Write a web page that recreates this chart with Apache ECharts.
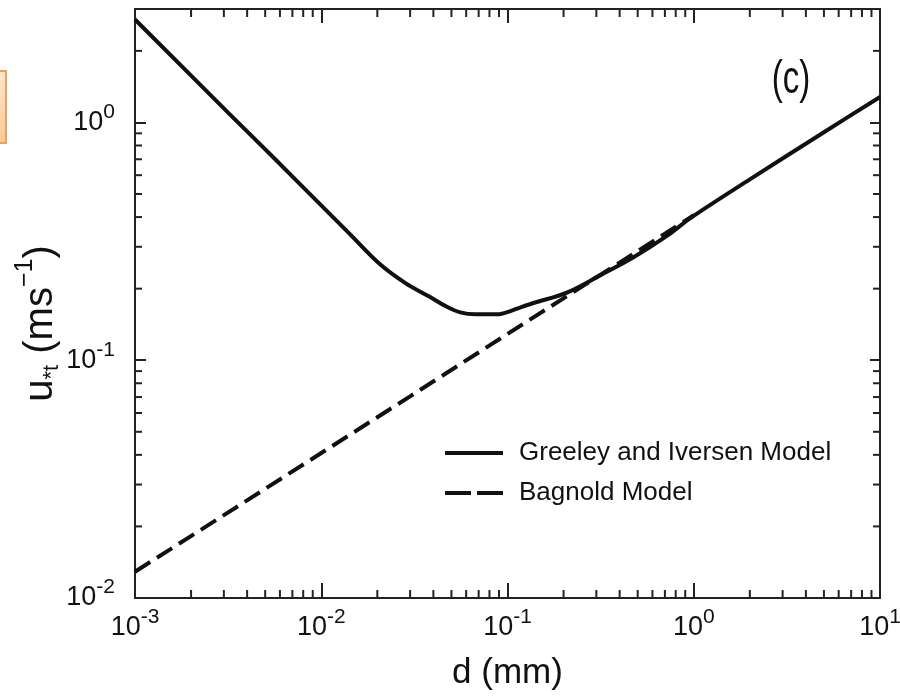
<!DOCTYPE html>
<html><head><meta charset="utf-8">
<script src="https://cdn.jsdelivr.net/npm/echarts@6/dist/echarts.min.js"></script>
<style>html,body{margin:0;padding:0;background:#fff}#c{width:900px;height:697px}</style>
</head><body><div id="c"></div>
<script>
const FONT = '"Liberation Sans",Arial,Helvetica,sans-serif';

// tick labels (value -> exponent shown as superscript)
const xTickValues = [0.001, 0.01, 0.1, 1, 10];
const xTickExp = ['-3', '-2', '-1', '0', '1'];
const yTickValues = [0.01, 0.1, 1];
const yTickExp = ['-2', '-1', '0'];

// Greeley and Iversen model (d in mm, u*t in m/s)
const giD = [0.001, 0.00316, 0.00566, 0.01, 0.0143, 0.0207, 0.0283, 0.0386, 0.0465, 0.0558, 0.0674, 0.0883, 0.1038, 0.1175, 0.138, 0.21, 0.316, 0.475, 0.724, 0.96, 2, 5, 10];
const giU = [2.71, 1.10, 0.70, 0.448, 0.338, 0.253, 0.211, 0.184, 0.169, 0.159, 0.156, 0.156, 0.161, 0.167, 0.174, 0.193, 0.228, 0.271, 0.335, 0.396, 0.576, 0.91, 1.28];

// Bagnold model
const bgD = [0.001, 0.003, 0.01, 0.03, 0.1, 0.3, 1];
const bgU = [0.0129, 0.0223, 0.0407, 0.0705, 0.129, 0.223, 0.407];

const minorMult = [2, 3, 4, 5, 6, 7, 8, 9];
const xDecades = [0.001, 0.01, 0.1, 1];
const yDecades = [0.01, 0.1, 1];
const xMinor = [];
xDecades.forEach(d => minorMult.forEach(m => xMinor.push(+(d * m).toPrecision(6))));
const yMinor = [];
yDecades.forEach(d => minorMult.forEach(m => { const v = +(d * m).toPrecision(6); if (v < 3) yMinor.push(v); }));

function expLabel(values, exps) {
  return function (v) {
    for (let i = 0; i < values.length; i++) {
      if (Math.abs(v - values[i]) / values[i] < 1e-6) return '{b|10}{s|' + exps[i] + '}';
    }
    return '';
  };
}
const tickRich = {
  b: { fontFamily: FONT, fontSize: 27, color: '#111' },
  s: { fontFamily: FONT, fontSize: 21, color: '#111', padding: [0, 0, 21, 0] }
};
const AX = '#222';

const chart = echarts.init(document.getElementById('c'));
chart.setOption({
  backgroundColor: '#fff',
  animation: false,
  grid: { left: 135, right: 20, top: 9, bottom: 99, containLabel: false, outerBoundsMode: 'none' },
  xAxis: [{
    type: 'log', logBase: 10, min: 0.001, max: 10,
    position: 'bottom',
    name: 'd (mm)', nameLocation: 'middle', nameGap: 58,
    nameTextStyle: { fontFamily: FONT, fontSize: 35, color: '#111' },
    axisLine: { show: true, lineStyle: { color: AX, width: 2 } },
    axisTick: { show: true, inside: true, length: 15, lineStyle: { color: AX, width: 2 } },
    axisLabel: { margin: 9, formatter: expLabel(xTickValues, xTickExp), rich: tickRich },
    splitLine: { show: false }, minorTick: { show: false }
  }, {
    type: 'log', logBase: 10, min: 0.001, max: 10,
    position: 'top',
    axisLine: { show: true, lineStyle: { color: AX, width: 2 } },
    axisTick: { show: true, inside: true, length: 14, lineStyle: { color: AX, width: 2 } },
    axisLabel: { show: false }, splitLine: { show: false }
  }],
  yAxis: [{
    type: 'log', logBase: 10, min: 0.01, max: 3,
    position: 'left',
    name: '{m|u}{sub|*t}{m| (ms}{sup|\u22121}{e|)}',
    nameLocation: 'middle', nameRotate: 90, nameGap: 67, nameMoveOverlap: false,
    nameTextStyle: {
      rich: {
        m: { fontFamily: FONT, fontSize: 40, color: '#111' },
        e: { fontFamily: FONT, fontSize: 40, color: '#111', padding: [0, 40, 0, 0] },
        sub: { fontFamily: FONT, fontSize: 22, color: '#111', padding: [22, 0, 0, 0] },
        sup: { fontFamily: FONT, fontSize: 25, color: '#111', padding: [0, 0, 30, 0] }
      }
    },
    axisLine: { show: true, lineStyle: { color: AX, width: 2 } },
    axisTick: { show: true, inside: true, length: 11, lineStyle: { color: AX, width: 2 } },
    axisLabel: { margin: 20, formatter: expLabel(yTickValues, yTickExp), rich: tickRich },
    splitLine: { show: false }
  }, {
    type: 'log', logBase: 10, min: 0.01, max: 3,
    position: 'right',
    axisLine: { show: true, lineStyle: { color: AX, width: 2 } },
    axisTick: { show: true, inside: true, length: 10, lineStyle: { color: AX, width: 2 } },
    axisLabel: { show: false }, splitLine: { show: false }
  }],
  legend: {
    left: 438, top: 435, orient: 'vertical',
    itemWidth: 58, itemHeight: 28, itemGap: 14,
    itemStyle: { opacity: 0 },
    textStyle: { fontFamily: FONT, fontSize: 26, color: '#111', padding: [0, 0, 0, 11] },
    data: [
      { name: 'Greeley and Iversen Model', itemStyle: { opacity: 0 }, lineStyle: { width: 4, color: '#111' } },
      { name: 'Bagnold Model', itemStyle: { opacity: 0 }, lineStyle: { width: 4, color: '#111', type: [26, 6] } }
    ]
  },
  graphic: [
    {
      type: 'rect', shape: { x: -12, y: 71, width: 18, height: 72 },
      style: {
        fill: new echarts.graphic.LinearGradient(0, 0, 0, 1, [
          { offset: 0, color: '#fde6d2' }, { offset: 1, color: '#fbc898' }
        ]),
        stroke: '#f0a050', lineWidth: 2
      }
    },
    {
      type: 'text', x: 791, y: 80, scaleX: 0.72,
      style: { text: '(c)', fontFamily: FONT, fontSize: 46, fill: '#111', align: 'center', verticalAlign: 'middle' }
    }
  ],
  series: [
    {
      name: 'Greeley and Iversen Model', type: 'line', xAxisIndex: 0, yAxisIndex: 0,
      data: giD.map((d, i) => [d, giU[i]]),
      smooth: 0.35, symbol: 'none',
      itemStyle: { color: '#111' },
      lineStyle: { color: '#111', width: 4 }
    },
    {
      name: 'Bagnold Model', type: 'line', xAxisIndex: 0, yAxisIndex: 0,
      data: bgD.map((d, i) => [d, bgU[i]]),
      symbol: 'none',
      itemStyle: { color: '#111' },
      lineStyle: { color: '#111', width: 4, type: [18, 8] }
    },
    {
      type: 'custom', xAxisIndex: 0, yAxisIndex: 0, silent: true,
      data: xMinor.map(v => [v, 1]),
      renderItem: function (params, api) {
        const cs = params.coordSys;
        const x = api.coord([api.value(0), 1])[0];
        const b = cs.y + cs.height;
        return { type: 'group', children: [
          { type: 'line', shape: { x1: x, y1: b, x2: x, y2: b - 8 }, style: { stroke: AX, lineWidth: 2 } },
          { type: 'line', shape: { x1: x, y1: cs.y, x2: x, y2: cs.y + 8 }, style: { stroke: AX, lineWidth: 2 } }
        ] };
      }
    },
    {
      type: 'custom', xAxisIndex: 0, yAxisIndex: 0, silent: true,
      data: yMinor.map(v => [0.01, v]),
      renderItem: function (params, api) {
        const cs = params.coordSys;
        const y = api.coord([0.01, api.value(1)])[1];
        const r = cs.x + cs.width;
        return { type: 'group', children: [
          { type: 'line', shape: { x1: cs.x, y1: y, x2: cs.x + 7, y2: y }, style: { stroke: AX, lineWidth: 2 } },
          { type: 'line', shape: { x1: r, y1: y, x2: r - 7, y2: y }, style: { stroke: AX, lineWidth: 2 } }
        ] };
      }
    }
  ]
});
</script></body></html>
